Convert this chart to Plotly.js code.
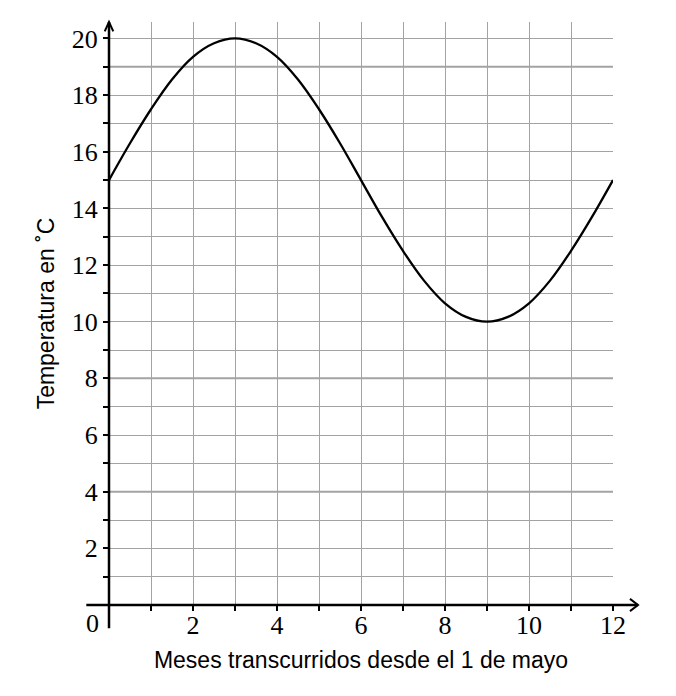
<!DOCTYPE html>
<html>
<head>
<meta charset="utf-8">
<script src="https://cdn.plot.ly/plotly-3.0.1.min.js"></script>
<style>html,body{margin:0;padding:0;background:#fff;}</style>
</head>
<body>
<div id="chart" style="width:676px;height:696px;"></div>
<script>
// Data
const months = [0, 0.5, 1, 1.5, 2, 2.5, 3, 3.5, 4, 4.5, 5, 5.5, 6, 6.5, 7, 7.5, 8, 8.5, 9, 9.5, 10, 10.5, 11, 11.5, 12];
const temps  = [15, 16.3, 17.5, 18.55, 19.35, 19.83, 20, 19.83, 19.35, 18.55, 17.5, 16.3, 15, 13.7, 12.5, 11.45, 10.65, 10.17, 10, 10.17, 10.65, 11.45, 12.5, 13.7, 15];
const xTickVals = [0, 2, 4, 6, 8, 10, 12];
const xTickText = ['', '2', '4', '6', '8', '10', '12'];
const yTickVals = [0, 2, 4, 6, 8, 10, 12, 14, 16, 18, 20];
const yTickText = ['', '2', '4', '6', '8', '10', '12', '14', '16', '18', '20'];
const darkerGrid = [4, 8, 19];
const xTitle = 'Meses transcurridos desde el 1 de mayo';
const yTitle = 'Temperatura en ˚C';

const gridColor = '#a3a3a3';
const tickFont = {family: '"Liberation Serif", "DejaVu Serif", serif', size: 26, color: '#000'};
const titleFont = {family: '"Liberation Sans", Arial, sans-serif', size: 23, color: '#000'};

const shapes = [];
darkerGrid.forEach(v => shapes.push({type: 'line', xref: 'x', yref: 'y', x0: 0, x1: 12, y0: v, y1: v, layer: 'below', line: {color: gridColor, width: 2}}));
// axis lines with arrows (paper coords)
shapes.push({type: 'line', xref: 'paper', yref: 'paper', x0: -0.045, x1: 1.0496, y0: 0, y1: 0, line: {color: '#000', width: 2.5}});
shapes.push({type: 'path', xref: 'paper', yref: 'paper', path: 'M 1.0337 0.0105 L 1.0496 0 L 1.0337 -0.0105', line: {color: '#000', width: 2}});
shapes.push({type: 'line', xref: 'paper', yref: 'paper', x0: 0, x1: 0, y0: -0.040, y1: 1.0, line: {color: '#000', width: 2.5}});
shapes.push({type: 'path', xref: 'paper', yref: 'paper', path: 'M -0.0085 0.984 L 0 1.0 L 0.0085 0.984', line: {color: '#000', width: 2}});

const trace = {
  x: months, y: temps, type: 'scatter', mode: 'lines',
  line: {color: '#000', width: 2.3, shape: 'spline', smoothing: 1},
  cliponaxis: false, hoverinfo: 'skip'
};

const layout = {
  width: 676, height: 696,
  margin: {l: 109, r: 63, t: 22, b: 91},
  paper_bgcolor: '#fff', plot_bgcolor: '#fff',
  showlegend: false,
  xaxis: {
    range: [0, 12], showline: false, zeroline: false,
    tickmode: 'array', tickvals: xTickVals, ticktext: xTickText,
    ticks: 'outside', ticklen: 5, tickwidth: 2, tickcolor: '#000',
    ticklabelstandoff: -8,
    showgrid: true, gridcolor: gridColor, gridwidth: 1,
    minor: {dtick: 1, tick0: 0, ticks: 'outside', ticklen: 5, tickwidth: 2, tickcolor: '#000', showgrid: true, gridcolor: gridColor, gridwidth: 1},
    tickfont: tickFont,
    title: {text: xTitle, font: titleFont, standoff: 12},
    automargin: false, fixedrange: true
  },
  yaxis: {
    range: [0, 20.58], showline: false, zeroline: false,
    tickmode: 'array', tickvals: yTickVals, ticktext: yTickText,
    ticks: 'outside', ticklen: 5, tickwidth: 2, tickcolor: '#000',
    showgrid: true, gridcolor: gridColor, gridwidth: 1,
    minor: {dtick: 1, tick0: 0, ticks: 'outside', ticklen: 5, tickwidth: 2, tickcolor: '#000', showgrid: true, gridcolor: gridColor, gridwidth: 1},
    tickfont: tickFont,
    title: {text: yTitle, font: titleFont, standoff: 10},
    automargin: false, fixedrange: true
  },
  shapes: shapes,
  annotations: [{
    xref: 'paper', yref: 'paper', x: -0.032, y: -0.031, text: '0', showarrow: false,
    xanchor: 'center', yanchor: 'middle', font: tickFont
  }]
};

Plotly.newPlot('chart', [trace], layout, {staticPlot: true, displayModeBar: false});
</script>
</body>
</html>
